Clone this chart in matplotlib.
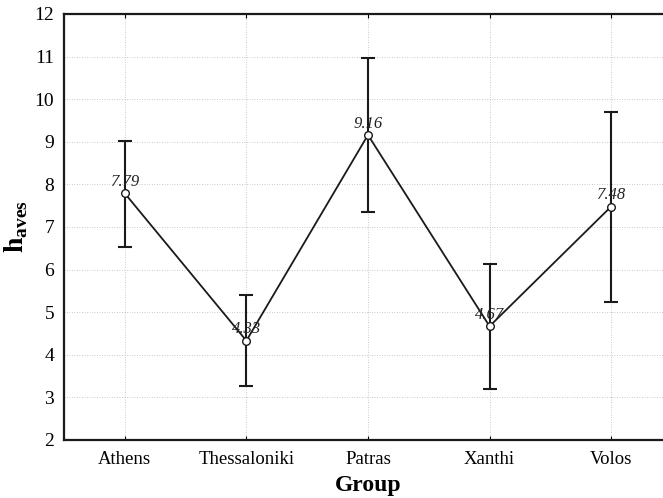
import matplotlib
matplotlib.use("Agg")
import matplotlib.pyplot as plt
import numpy as np

# Data
groups = ["Athens", "Thessaloniki", "Patras", "Xanthi", "Volos"]
means = [7.79, 4.33, 9.16, 4.67, 7.48]
upper = [9.03, 5.40, 10.96, 6.13, 9.69]
lower = [6.54, 3.27, 7.36, 3.20, 5.25]
yticks = [2, 3, 4, 5, 6, 7, 8, 9, 10, 11, 12]

plt.rcParams['font.family'] = ['Liberation Serif', 'DejaVu Serif']
plt.rcParams['mathtext.fontset'] = 'custom'
plt.rcParams['mathtext.rm'] = 'Liberation Serif'
plt.rcParams['mathtext.bf'] = 'Liberation Serif:bold'

fig = plt.figure(figsize=(6.63, 4.98), dpi=100)
# the original is cropped on the right, so the axes run past the figure edge
ax = fig.add_axes([0.0965, 0.1165, 0.917, 0.8554])

x = np.arange(len(groups))
m = np.array(means)
yerr = [m - np.array(lower), np.array(upper) - m]

ax.errorbar(x, m, yerr=yerr, fmt='none', ecolor='#1a1a1a', elinewidth=1.5,
            capsize=4.8, capthick=1.5, zorder=2)
ax.plot(x, m, color='#1a1a1a', lw=1.3, marker='o', markersize=5.5,
        markerfacecolor='white', markeredgecolor='#1a1a1a', markeredgewidth=1.0, zorder=3)

for xi, v in zip(x, means):
    ax.annotate(f"{v:.2f}", (xi, v), xytext=(0, 2.5), textcoords='offset points',
                ha='center', va='bottom', fontsize=12, fontstyle='italic', color='#222222')

ax.set_xlim(-0.5, len(groups) - 0.5)
ax.set_ylim(2, 12)
ax.set_yticks(yticks)
ax.set_xticks(x)
ax.set_xticklabels(groups)
ax.tick_params(axis='y', length=0, labelsize=14, pad=7)
ax.tick_params(axis='x', direction='in', length=3, labelsize=13.5, pad=8, top=True)

ax.grid(True, linestyle=(0, (1, 2)), color='#b8b8b8', lw=0.6)
ax.set_axisbelow(True)
for sp in ax.spines.values():
    sp.set_linewidth(1.6)
    sp.set_color('#1a1a1a')

ax.set_xlabel("Group", fontsize=17, fontweight='bold', labelpad=5)
ax.set_ylabel(r"$\mathbf{h}_{\mathbf{aves}}$", fontsize=20, va='center')
ax.yaxis.set_label_coords(-0.078, 0.5)

fig.savefig("out.png", dpi=100)
